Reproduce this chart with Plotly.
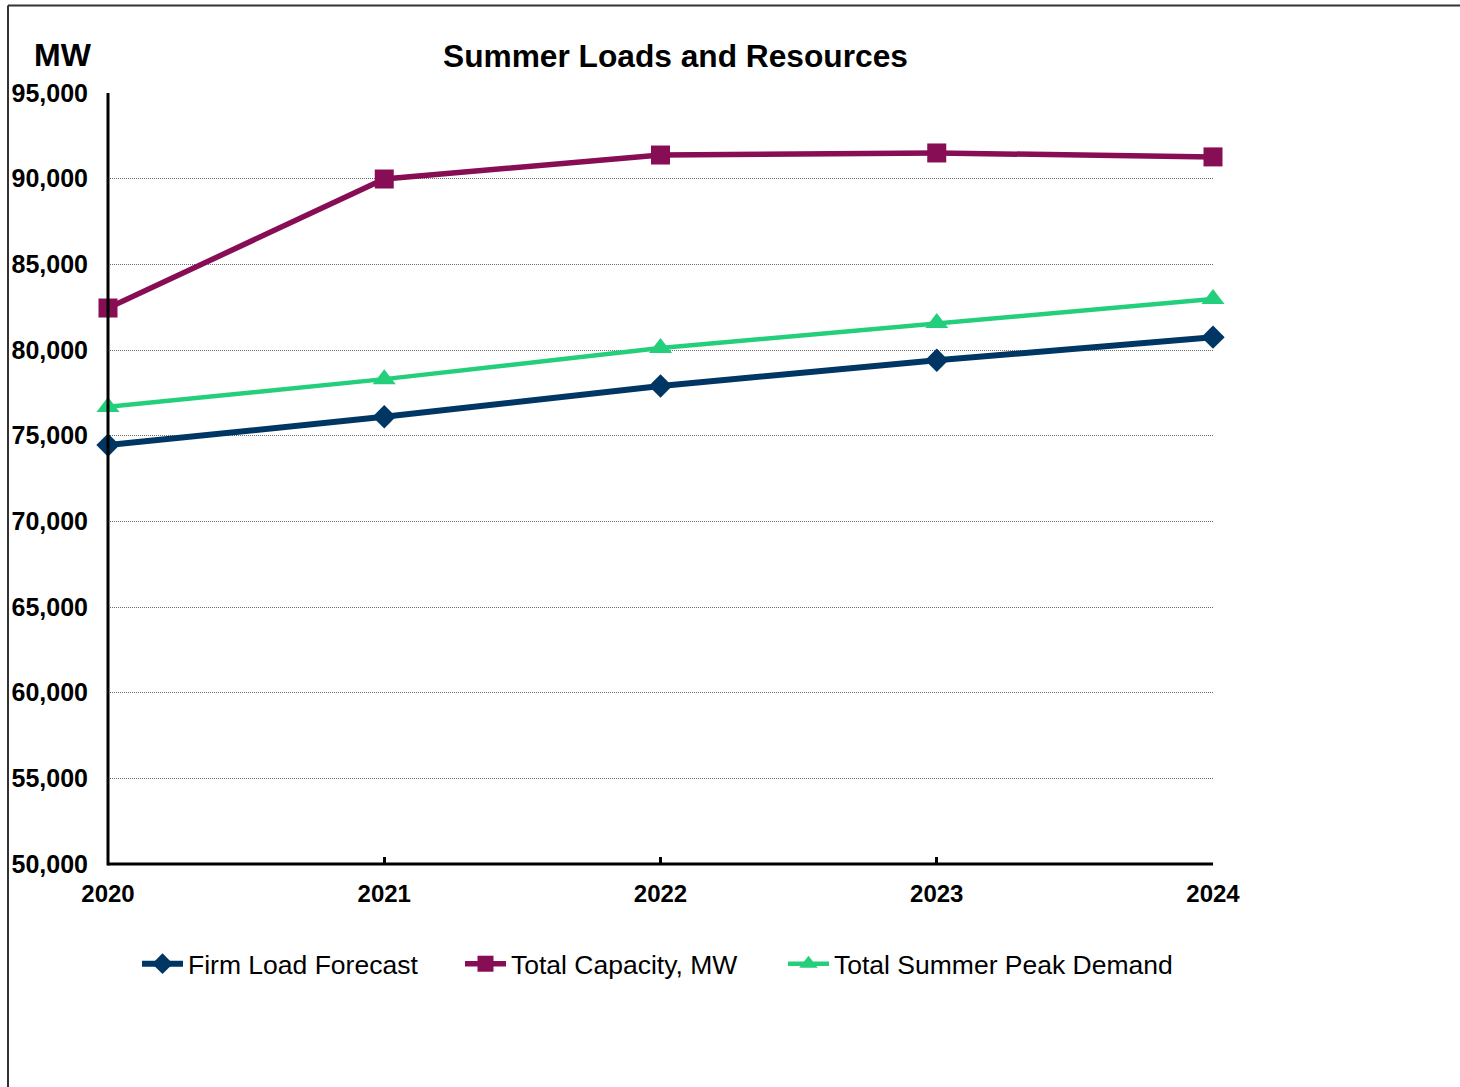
import plotly.graph_objects as go

# Forecast years and series values (MW)
years = [2020, 2021, 2022, 2023, 2024]
year_labels = ["2020", "2021", "2022", "2023", "2024"]
firm_load = [74450, 76100, 77900, 79400, 80750]
total_capacity = [82450, 89980, 91380, 91500, 91270]
peak_demand = [76680, 78300, 80120, 81580, 82980]

y_ticks = [50000, 55000, 60000, 65000, 70000, 75000, 80000, 85000, 90000, 95000]

W, H = 1460, 1087
ML, MR, MT, MB = 108, 247, 93, 223
PW, PH = W - ML - MR, H - MT - MB


def px_x(p):
    return (p - ML) / PW


def px_y(p):
    return (H - MB - p) / PH


FONT = "Liberation Sans, Arial, sans-serif"

fig = go.Figure()

fig.add_trace(go.Scatter(
    x=years, y=firm_load, name="Firm Load Forecast", mode="lines+markers",
    line=dict(color="#003663", width=6),
    marker=dict(symbol="diamond", size=18, color="#003663"),
    cliponaxis=False, legendwidth=267,
))
fig.add_trace(go.Scatter(
    x=years, y=total_capacity, name="Total Capacity, MW", mode="lines+markers",
    line=dict(color="#870E55", width=5.5),
    marker=dict(symbol="square", size=19, color="#870E55"),
    cliponaxis=False, legendwidth=267,
))
fig.add_trace(go.Scatter(
    x=years, y=peak_demand, name="Total Summer Peak Demand", mode="lines+markers",
    line=dict(color="#24CF7C", width=4.5),
    marker=dict(symbol="triangle-up", size=20, color="#24CF7C"),
    cliponaxis=False, legendwidth=380,
))

fig.update_layout(
    width=W, height=H,
    margin=dict(l=ML, r=MR, t=MT, b=MB, autoexpand=False),
    paper_bgcolor="white", plot_bgcolor="white",
    font=dict(family=FONT, color="black"),
    showlegend=True,
    legend=dict(
        orientation="h", x=px_x(137), xanchor="left",
        y=px_y(964), yanchor="middle",
        font=dict(family=FONT, size=26.5, color="black"),
        itemwidth=41,
        bgcolor="rgba(0,0,0,0)",
    ),
    xaxis=dict(
        range=[2020, 2024], tickvals=years, ticktext=year_labels,
        showgrid=False, zeroline=False, showline=False,
        ticks="inside", ticklen=7, tickwidth=3, tickcolor="black",
        tickfont=dict(family=FONT, size=24, color="black", weight="bold"),
        ticklabelstandoff=13,
    ),
    yaxis=dict(
        range=[50000, 95000], tickvals=y_ticks, tickformat=",",
        showgrid=True, gridcolor="#6a6a6a", gridwidth=1, griddash="1px,1px",
        zeroline=False, showline=False,
        ticks="",
        tickfont=dict(family=FONT, size=25, color="black", weight="bold"),
        ticklabelstandoff=19,
    ),
    annotations=[
        dict(text="Summer Loads and Resources", xref="paper", yref="paper",
             x=px_x(675), y=px_y(56), xanchor="center", yanchor="middle",
             showarrow=False,
             font=dict(family=FONT, size=31.7, color="black", weight="bold")),
        dict(text="MW", xref="paper", yref="paper",
             x=px_x(63), y=px_y(55), xanchor="center", yanchor="middle",
             showarrow=False,
             font=dict(family=FONT, size=32, color="black", weight="bold")),
    ],
    shapes=[
        # outer frame (top and left edges)
        dict(type="line", xref="paper", yref="paper",
             x0=px_x(8), x1=px_x(W + 5), y0=px_y(5.5), y1=px_y(5.5),
             line=dict(color="#333333", width=2)),
        dict(type="line", xref="paper", yref="paper",
             x0=px_x(8), x1=px_x(8), y0=px_y(5.5), y1=px_y(H + 5),
             line=dict(color="#333333", width=2)),
        # axis lines
        dict(type="line", xref="paper", yref="paper",
             x0=0, x1=0, y0=-0.002, y1=1,
             line=dict(color="black", width=3)),
        dict(type="line", xref="paper", yref="paper",
             x0=0, x1=1, y0=0, y1=0,
             line=dict(color="black", width=3)),
    ],
)

fig.write_html("out.html")
